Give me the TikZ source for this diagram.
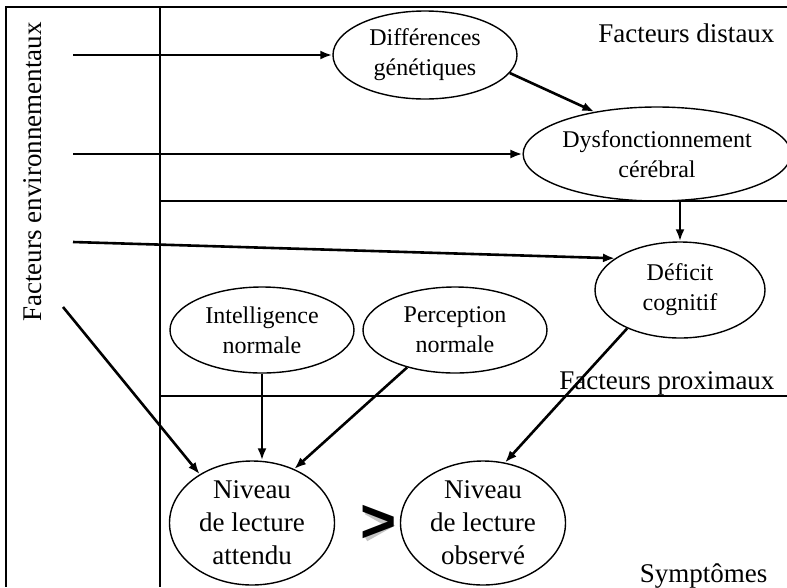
\documentclass[tikz,border=0pt]{standalone}
\usepackage{fontspec}
\setmainfont{Liberation Serif}
\newfontfamily\arialfont{Liberation Sans}
\usetikzlibrary{arrows.meta,shapes.geometric,calc}

\begin{document}
\begin{tikzpicture}[x=1pt,y=-1pt,
  frame/.style={line width=1.5pt},
  cause/.style={ellipse,draw,line width=1.4pt,inner sep=0pt,align=center,font=\fontsize{24}{30}\selectfont},
  niveau/.style={ellipse,draw,line width=1.4pt,inner sep=0pt,inner ysep=-4pt,align=center,minimum width=165pt,minimum height=124pt,font=\fontsize{27}{33}\selectfont},
  zone/.style={font=\fontsize{27}{30}\selectfont},
  fleche/.style={line width=2.6pt,-{Latex[length=12pt,width=9pt]}}]
\useasboundingbox (0,0) rectangle (787,587);

\draw[frame] (787,7) -- (6,7) -- (6,587);
\draw[frame] (160,7) -- (160,587);
\draw[frame] (160,201) -- (787,201);
\draw[frame] (160,396) -- (787,396);

\node[zone,anchor=base,rotate=90] (env) at (41,172) {Facteurs environnementaux};
\node[zone,anchor=base east] (distaux) at (778,42) {Facteurs distaux};
\node[zone,anchor=base east] (proximaux) at (778,389) {Facteurs proximaux};
\node[zone,anchor=base east] (sympt) at (771,582) {Symptômes};

\node[cause,minimum width=184pt,minimum height=88pt] (diff) at (425,55) {Différences\\génétiques};
\node[cause,minimum width=262pt,minimum height=94pt] (dysf) at (657,154) {Dysfonctionnement\\cérébral};
\node[cause,minimum width=170pt,minimum height=96pt] (deficit) at (680,290) {Déficit\\cognitif};
\node[cause,minimum width=184pt,minimum height=86pt] (intel) at (262,330) {Intelligence\\normale};
\node[cause,minimum width=184pt,minimum height=86pt] (percep) at (455,330) {Perception\\normale};
\node[niveau] (attendu) at (252,523) {Niveau\\de lecture\\attendu};
\node[niveau] (observe) at (483,523) {Niveau\\de lecture\\observé};

% ombre du signe
\draw[gray!45,line width=5pt,line join=miter] (366,512) -- (390,525.5) -- (366,539);
\node[font=\arialfont\bfseries\fontsize{62}{62}\selectfont] (sup) at (379,524) {>};

\coordinate (e1) at (73,55);
\coordinate (e2) at (73,154);
\coordinate (e3) at (73,242);
\coordinate (e4) at (63,307);

\draw[fleche] (e1) -- (diff);
\draw[fleche] (e2) -- (dysf);
\draw[fleche] (e3) -- (deficit.154);
\draw[fleche] (e4) -- (attendu.137);
\draw[fleche] (diff.-12) -- (dysf.146);
\draw[fleche] (deficit.north |- dysf.south) -- (deficit.north);
\draw[fleche] (intel.south) -- (intel.south |- attendu.north);
\draw[fleche] (percep.218) -- (attendu.52);
\draw[fleche] (deficit.216) -- (observe.70);
\end{tikzpicture}
\end{document}
